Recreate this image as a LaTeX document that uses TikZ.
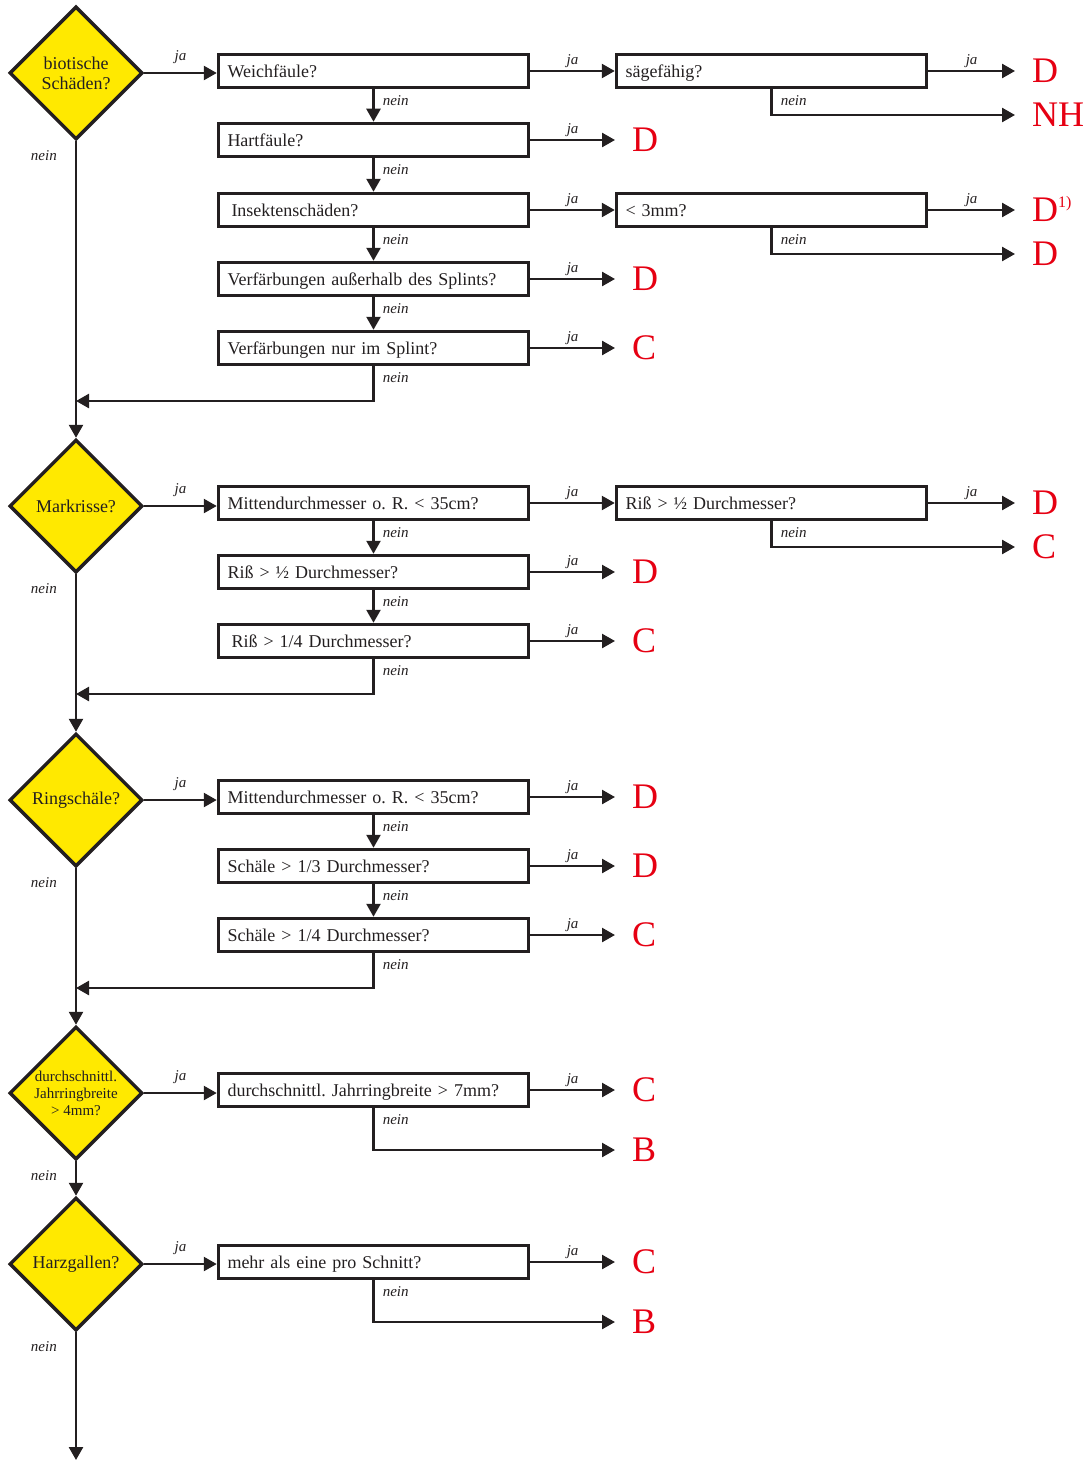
\documentclass[tikz,border=0pt]{standalone}
\usepackage{fontspec}
\setmainfont{Liberation Serif}
\usetikzlibrary{shapes.geometric,arrows.meta}
\definecolor{linegray}{HTML}{231F20}
\definecolor{signyellow}{HTML}{FFE900}
\definecolor{gradered}{HTML}{E60012}
\frenchspacing
\begin{document}
\begin{tikzpicture}[x=1pt,y=-1pt,
	query/.style={shape=diamond, draw=linegray, fill=signyellow, line width=3.5pt, minimum width=133pt, minimum height=133pt, inner sep=0pt, align=center, text=linegray, font=\fontsize{18}{20}\selectfont},
	qbox/.style={draw=linegray, line width=3.5pt, minimum width=310pt, minimum height=33pt, text width=292pt, inner xsep=9pt, inner ysep=0pt, text height=16pt, text depth=3.7pt, align=left, text=linegray, font=\fontsize{18}{20}\selectfont},
	grade/.style={anchor=west, inner xsep=17pt, inner ysep=0pt, text=gradered, font=\fontsize{36}{36}\selectfont},
	flow/.style={draw=linegray, line width=2.5pt, -{Triangle[length=13pt,width=14pt]}},
	lbl/.style={text=linegray, inner sep=1pt, font=\fontsize{15}{15}\selectfont\itshape},
	jalbl/.style={lbl, above=1.5pt},
	qjalbl/.style={lbl, above=7pt},
	neinlbl/.style={lbl, pos=0, anchor=north west, xshift=7pt, yshift=-4.5pt},
	mainnein/.style={lbl, at start, anchor=east, xshift=-17pt, yshift=-14pt}]
	\useasboundingbox (0,0) rectangle (1090,1461);

	\node[query] (bio) at (76,73) {biotische\\Schäden?};
	\node[qbox] (weich) at (373.5,71) {Weichfäule?};
	\node[qbox] (hart) at (373.5,140) {Hartfäule?};
	\node[qbox] (insekt) at (373.5,210) {\hspace*{4pt}Insektenschäden?};
	\node[qbox] (verfa) at (373.5,279) {Verfärbungen außerhalb des Splints?};
	\node[qbox] (verfs) at (373.5,348) {Verfärbungen nur im Splint?};
	\node[qbox] (saege) at (771.5,71) {sägefähig?};
	\node[qbox] (drei) at (771.5,210) {< 3mm?};
	\node[grade] (gSaegeJa) at (1015,71) {D};
	\node[grade] (gSaegeNein) at (1015,115) {NH};
	\node[grade] (gHart) at (615,140) {D};
	\node[grade] (gDreiJa) at (1015,210) {D\smash{\raisebox{14pt}{\fontsize{16}{16}\selectfont 1)}}};
	\node[grade] (gDreiNein) at (1015,254) {D};
	\node[grade] (gVerfa) at (615,279) {D};
	\node[grade] (gVerfs) at (615,348) {C};
	\coordinate (join1) at (76,401);

	\draw[flow] (bio.east) -- node[qjalbl] {ja} (bio.east -| weich.west);
	\draw[flow] (weich.east) -- node[jalbl] {ja} (saege.west);
	\draw[flow] (saege.east) -- node[jalbl] {ja} (gSaegeJa.west);
	\draw[flow] (saege.south) |- node[neinlbl] {nein} (gSaegeNein.west);
	\draw[flow] (weich.south) -- node[neinlbl] {nein} (hart.north);
	\draw[flow] (hart.east) -- node[jalbl] {ja} (gHart.west);
	\draw[flow] (hart.south) -- node[neinlbl] {nein} (insekt.north);
	\draw[flow] (insekt.east) -- node[jalbl] {ja} (drei.west);
	\draw[flow] (drei.east) -- node[jalbl] {ja} (gDreiJa.west);
	\draw[flow] (drei.south) |- node[neinlbl] {nein} (gDreiNein.west);
	\draw[flow] (insekt.south) -- node[neinlbl] {nein} (verfa.north);
	\draw[flow] (verfa.east) -- node[jalbl] {ja} (gVerfa.west);
	\draw[flow] (verfa.south) -- node[neinlbl] {nein} (verfs.north);
	\draw[flow] (verfs.east) -- node[jalbl] {ja} (gVerfs.west);
	\draw[flow] (verfs.south) |- node[neinlbl] {nein} (join1);

	\node[query] (mark) at (76,506) {Markrisse?};
	\node[qbox] (mdm) at (373.5,503) {Mittendurchmesser o. R. < 35cm?};
	\node[qbox] (rissh) at (373.5,572) {Riß > ½ Durchmesser?};
	\node[qbox] (rissv) at (373.5,641) {\hspace*{4pt}Riß > 1/4 Durchmesser?};
	\node[qbox] (risshb) at (771.5,503) {Riß > ½ Durchmesser?};
	\node[grade] (gRissbJa) at (1015,503) {D};
	\node[grade] (gRissbNein) at (1015,547) {C};
	\node[grade] (gRissh) at (615,572) {D};
	\node[grade] (gRissv) at (615,641) {C};
	\coordinate (join2) at (76,694);

	\draw[flow] (bio.south) -- node[mainnein] {nein} (mark.north);
	\draw[flow] (mark.east) -- node[qjalbl] {ja} (mark.east -| mdm.west);
	\draw[flow] (mdm.east) -- node[jalbl] {ja} (risshb.west);
	\draw[flow] (risshb.east) -- node[jalbl] {ja} (gRissbJa.west);
	\draw[flow] (risshb.south) |- node[neinlbl] {nein} (gRissbNein.west);
	\draw[flow] (mdm.south) -- node[neinlbl] {nein} (rissh.north);
	\draw[flow] (rissh.east) -- node[jalbl] {ja} (gRissh.west);
	\draw[flow] (rissh.south) -- node[neinlbl] {nein} (rissv.north);
	\draw[flow] (rissv.east) -- node[jalbl] {ja} (gRissv.west);
	\draw[flow] (rissv.south) |- node[neinlbl] {nein} (join2);

	\node[query] (ring) at (76,800) {Ringschäle?};
	\node[qbox] (mdr) at (373.5,797) {Mittendurchmesser o. R. < 35cm?};
	\node[qbox] (schd) at (373.5,866) {Schäle > 1/3 Durchmesser?};
	\node[qbox] (schv) at (373.5,935) {Schäle > 1/4 Durchmesser?};
	\node[grade] (gMdr) at (615,797) {D};
	\node[grade] (gSchd) at (615,866) {D};
	\node[grade] (gSchv) at (615,935) {C};
	\coordinate (join3) at (76,988);

	\draw[flow] (mark.south) -- node[mainnein] {nein} (ring.north);
	\draw[flow] (ring.east) -- node[qjalbl] {ja} (ring.east -| mdr.west);
	\draw[flow] (mdr.east) -- node[jalbl] {ja} (gMdr.west);
	\draw[flow] (mdr.south) -- node[neinlbl] {nein} (schd.north);
	\draw[flow] (schd.east) -- node[jalbl] {ja} (gSchd.west);
	\draw[flow] (schd.south) -- node[neinlbl] {nein} (schv.north);
	\draw[flow] (schv.east) -- node[jalbl] {ja} (gSchv.west);
	\draw[flow] (schv.south) |- node[neinlbl] {nein} (join3);

	\node[query, font=\fontsize{15}{17}\selectfont] (jrb) at (76,1093) {durchschnittl.\\Jahrringbreite\\> 4mm?};
	\node[qbox] (jrbox) at (373.5,1090) {durchschnittl. Jahrringbreite > 7mm?};
	\node[grade] (gJrbJa) at (615,1090) {C};
	\node[grade] (gJrbNein) at (615,1150) {B};

	\draw[flow] (ring.south) -- node[mainnein] {nein} (jrb.north);
	\draw[flow] (jrb.east) -- node[qjalbl] {ja} (jrb.east -| jrbox.west);
	\draw[flow] (jrbox.east) -- node[jalbl] {ja} (gJrbJa.west);
	\draw[flow] (jrbox.south) |- node[neinlbl] {nein} (gJrbNein.west);

	\node[query] (harz) at (76,1264) {Harzgallen?};
	\node[qbox] (harzbox) at (373.5,1262) {mehr als eine pro Schnitt?};
	\node[grade] (gHarzJa) at (615,1262) {C};
	\node[grade] (gHarzNein) at (615,1322) {B};
	\coordinate (exit) at (76,1460);

	\draw[flow] (jrb.south) -- node[mainnein] {nein} (harz.north);
	\draw[flow] (harz.east) -- node[qjalbl] {ja} (harz.east -| harzbox.west);
	\draw[flow] (harzbox.east) -- node[jalbl] {ja} (gHarzJa.west);
	\draw[flow] (harzbox.south) |- node[neinlbl] {nein} (gHarzNein.west);
	\draw[flow] (harz.south) -- node[mainnein] {nein} (exit);
\end{tikzpicture}
\end{document}
